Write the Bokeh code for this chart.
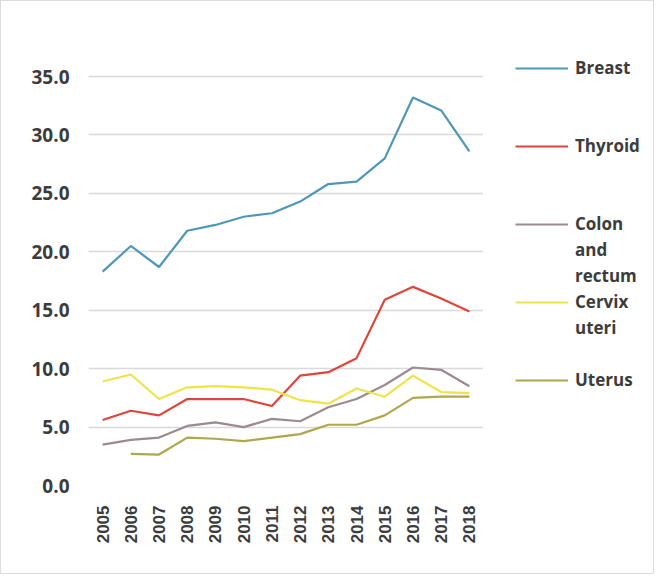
import math
from bokeh.plotting import figure
from bokeh.layouts import row
from bokeh.models import (Range1d, FixedTicker, NumeralTickFormatter, Legend, LegendItem)
from bokeh.embed import file_html
from bokeh.resources import INLINE

years = ["2005", "2006", "2007", "2008", "2009", "2010", "2011",
         "2012", "2013", "2014", "2015", "2016", "2017", "2018"]
nan = float("nan")
breast = [18.3, 20.5, 18.7, 21.8, 22.3, 23.0, 23.3, 24.3, 25.8, 26.0, 28.0, 33.2, 32.1, 28.6]
thyroid = [5.6, 6.4, 6.0, 7.4, 7.4, 7.4, 6.8, 9.4, 9.7, 10.9, 15.9, 17.0, 16.0, 14.9]
colon = [3.5, 3.9, 4.1, 5.1, 5.4, 5.0, 5.7, 5.5, 6.7, 7.4, 8.6, 10.1, 9.9, 8.5]
cervix = [8.9, 9.5, 7.4, 8.4, 8.5, 8.4, 8.2, 7.3, 7.0, 8.3, 7.6, 9.4, 8.0, 7.9]
uterus = [nan, 2.7, 2.65, 4.1, 4.0, 3.8, 4.1, 4.4, 5.2, 5.2, 6.0, 7.5, 7.6, 7.6]
y_ticks = [0, 5, 10, 15, 20, 25, 30, 35]

series = [
    ("Breast", breast, "#4f97b8"),
    ("Thyroid", thyroid, "#e0453a"),
    ("Colon", colon, "#9a8a93"),
    ("Cervix", cervix, "#efe34c"),
    ("Uterus", uterus, "#b0a64c"),
]
# legend rows (Excel wraps long names onto several lines)
legend_rows = [("Breast", "Breast"), (None, " "), (None, "  "),
               ("Thyroid", "Thyroid"), (None, "   "), (None, "    "),
               ("Colon", "Colon"), (None, "and"), (None, "rectum"),
               ("Cervix", "Cervix"), (None, "uteri"), (None, "     "),
               ("Uterus", "Uterus")]

TEXT = "#3c3c3c"

# ---- chart ----
# frame: page x 95..490, y 48..492 (value 35 at y=83, head-room above for the legend)
p = figure(x_range=years, y_range=Range1d(0, 38), width=482, height=572,
           output_backend="svg", toolbar_location=None,
           min_border_left=87, min_border_right=0, min_border_top=40, min_border_bottom=88)
p.outline_line_color = None
p.xgrid.grid_line_color = None
p.ygrid.grid_line_color = "#d9d9d9"
p.ygrid.grid_line_width = 1.5
p.yaxis.ticker = FixedTicker(ticks=y_ticks)
p.yaxis.formatter = NumeralTickFormatter(format="0.0")
for ax in (p.xaxis, p.yaxis):
    ax.axis_line_color = None
    ax.major_tick_line_color = None
    ax.minor_tick_line_color = None
p.yaxis.major_label_text_font = "Open Sans"
p.yaxis.major_label_text_font_style = "bold"
p.yaxis.major_label_text_font_size = "19px"
p.yaxis.major_label_text_color = TEXT
p.yaxis.major_label_standoff = 13
p.xaxis.major_label_orientation = math.pi / 2
p.xaxis.major_label_text_font = "Liberation Sans"
p.xaxis.major_label_text_font_style = "bold"
p.xaxis.major_label_text_font_size = "17px"
p.xaxis.major_label_text_color = TEXT
p.xaxis.major_label_standoff = 14

for name, vals, col in series:
    p.line(years, vals, line_color=col, line_width=2.2)

# ---- legend panel (its frame is aligned with the chart's frame vertically) ----
q = figure(width=170, height=572, output_backend="svg", toolbar_location=None,
           x_axis_location=None, y_axis_location=None,
           x_range=Range1d(0, 1), y_range=Range1d(0, 1),
           min_border_left=0, min_border_right=0, min_border_top=40, min_border_bottom=88)
q.outline_line_color = None
q.xgrid.visible = False
q.ygrid.visible = False
leg_r = {}
for name, vals, col in series:
    leg_r[name] = q.line(x=[nan], y=[nan], line_color=col, line_width=2.2)
blank = q.line(x=[nan], y=[nan], line_alpha=0)

items = []
for key, label in legend_rows:
    r = leg_r[key] if key else blank
    items.append(LegendItem(label=label, renderers=[r]))

row_h = 26
frame_bottom = 492          # page y of frame bottom
first_center = 74.5         # page y of first legend row
legend_bottom = first_center - row_h / 2 + row_h * len(legend_rows)
leg = Legend(items=items, location=(32, frame_bottom - legend_bottom),
             orientation="vertical", padding=0, margin=0, spacing=0,
             border_line_color=None, background_fill_alpha=0,
             glyph_width=53, glyph_height=row_h, label_height=row_h,
             label_standoff=7,
             label_text_font="Open Sans", label_text_font_style="bold",
             label_text_font_size="17px", label_text_color=TEXT)
q.add_layout(leg)

layout = row(p, q, spacing=0)
layout.styles = {"border": "1px solid #dcdcdc", "box-sizing": "border-box"}

open("out.html", "w").write(file_html(layout, INLINE))
